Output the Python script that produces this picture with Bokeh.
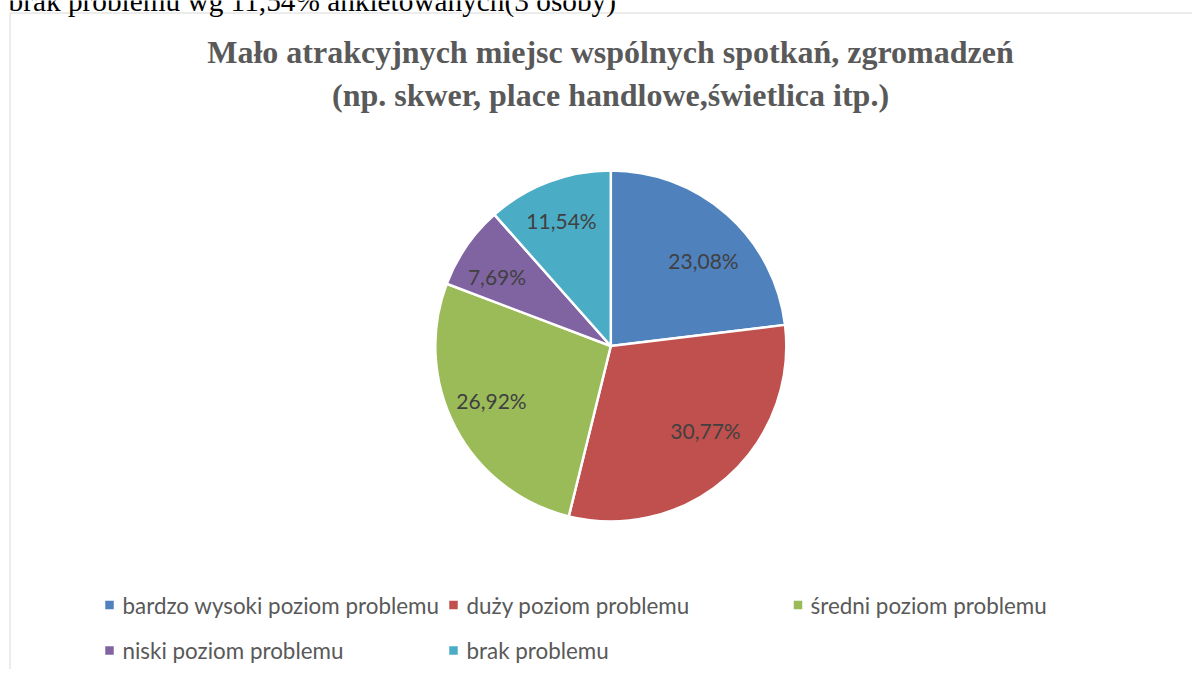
import numpy as np
from bokeh.plotting import figure
from bokeh.models import ColumnDataSource, Range1d
from bokeh.core.properties import value
from bokeh.embed import file_html
from bokeh.resources import INLINE

# ---------------- data ----------------
categories = [
    "bardzo wysoki poziom problemu",
    "duży poziom problemu",
    "średni poziom problemu",
    "niski poziom problemu",
    "brak problemu",
]
shares = [23.08, 30.77, 26.92, 7.69, 11.54]
colors = ["#4F81BD", "#C0504D", "#9BBB59", "#8064A2", "#4BACC6"]
title_lines = [
    "Mało atrakcyjnych miejsc wspólnych spotkań, zgromadzeń",
    "(np. skwer, place handlowe,świetlica itp.)",
]
note_text = "brak problemu wg 11,54% ankietowanych(3 osoby)"

# ---------------- layout (page pixel coordinates) ----------------
W, H = 1192, 669
def px(x):
    return x
def py(y):
    return H - y

pie_cx, pie_cy, pie_r = 610.3, 345.5, 175.5
label_pos = [(703, 259.5), (705, 429.5), (491, 399.5), (496.5, 275.5), (561, 220)]
legend_sq = [(109, 604.5), (453, 604.5), (797.5, 604.5), (109, 650), (453, 650)]
legend_txt = [(122, 604.5), (466, 604.5), (810, 604.5), (122, 650), (466, 650)]
title_y = [51, 94]

p = figure(width=W, height=H, x_range=Range1d(0, W), y_range=Range1d(0, H),
           output_backend="svg", toolbar_location=None, min_border=0,
           outline_line_color=None, background_fill_color="white",
           border_fill_color="white")
p.axis.visible = False
p.grid.visible = False

# chart frame border
p.line(x=[px(9.5), px(9.5), px(1210)], y=[py(700), py(12.5), py(12.5)],
       line_color="#D9D9D9", line_width=1)

# cut-off note text at top of page
p.text(x=[px(8)], y=[py(0.5)], text=[note_text], text_font=value("Liberation Serif"),
       text_font_size="29.3px", text_color="#000000", text_align="left",
       text_baseline="middle")

# title
for i, line in enumerate(title_lines):
    p.text(x=[px(610)], y=[py(title_y[i])], text=[line],
           text_font=value("Liberation Serif"), text_font_style="bold",
           text_font_size="32px", text_color="#595959", text_align="center",
           text_baseline="middle")

# pie wedges
vals = np.array(shares, dtype=float)
frac = vals / vals.sum()
cum = np.concatenate([[0.0], np.cumsum(frac)])
start = np.pi / 2 - 2 * np.pi * cum[:-1]
end = np.pi / 2 - 2 * np.pi * cum[1:]
src = ColumnDataSource(dict(x=[px(pie_cx)] * len(vals), y=[py(pie_cy)] * len(vals),
                            start=start, end=end, color=colors))
p.wedge(x="x", y="y", radius=pie_r, start_angle="start", end_angle="end",
        direction="clock", fill_color="color", line_color="white", line_width=2.5,
        source=src)

# data labels
lab = ColumnDataSource(dict(
    x=[px(a) for a, b in label_pos], y=[py(b) for a, b in label_pos],
    text=[("%.2f%%" % v).replace(".", ",") for v in shares]))
p.text(x="x", y="y", text="text", source=lab, text_font=value("Lato"),
       text_font_size="21px", text_color="#404040", text_align="center",
       text_baseline="middle")

# legend
sq = ColumnDataSource(dict(x=[px(a) for a, b in legend_sq], y=[py(b) for a, b in legend_sq],
                           color=colors))
p.rect(x="x", y="y", width=8.5, height=8.5, fill_color="color", line_color=None, source=sq)
lt = ColumnDataSource(dict(x=[px(a) for a, b in legend_txt], y=[py(b) for a, b in legend_txt],
                           text=categories))
p.text(x="x", y="y", text="text", source=lt, text_font=value("Lato"),
       text_font_size="22.4px", text_color="#595959", text_align="left",
       text_baseline="middle")

open("out.html", "w").write(file_html(p, INLINE))
